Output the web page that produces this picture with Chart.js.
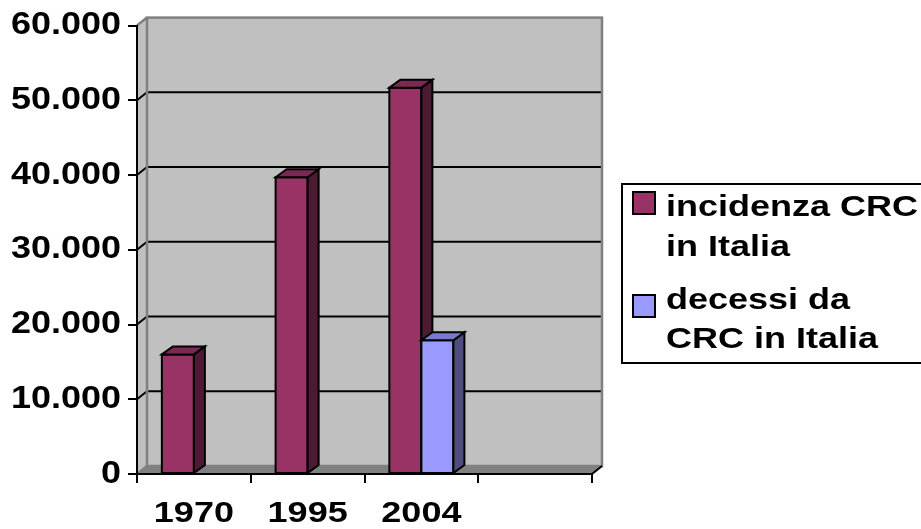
<!DOCTYPE html>
<html>
<head>
<meta charset="utf-8">
<script src="https://cdn.jsdelivr.net/npm/chart.js@4.4.1/dist/chart.umd.min.js"></script>
<style>
  html, body { margin: 0; padding: 0; background: #ffffff; }
  canvas { display: block; }
</style>
</head>
<body>
<canvas id="c" width="921" height="529"></canvas>
<script>
// ---- data ----
const years = ['1970', '1995', '2004', ''];
const incidenza = [16000, 39700, 51700, null];
const decessi = [null, null, 17900, null];
const seriesLabels = [['incidenza CRC', 'in Italia'], ['decessi da', 'CRC in Italia']];
const yMax = 60000;
const yStep = 10000;

// ---- look ----
const FONT = "'Liberation Sans', Arial, Helvetica, sans-serif";
const SHADES = [
  { front: '#993366', side: '#4d1a33', top: '#7a2952' },
  { front: '#9999ff', side: '#4d4d80', top: '#7a7acc' }
];
const WALL = { dx: 10, dy: 8 };
const BAR = { dx: 11, dy: 8 };
// horizontal glyph stretch keyed by font size (wide bold lettering)
const TEXT_STRETCH = { 30: 1.2, 31: 1.16 };

const canvas = document.getElementById('c');
const ctx = canvas.getContext('2d');
const rawFillText = ctx.fillText.bind(ctx);
ctx.fillText = function (text, x, y) {
  const m = /(\d+(?:\.\d+)?)px/.exec(this.font);
  const k = m ? (TEXT_STRETCH[Math.round(+m[1])] || 1) : 1;
  if (k === 1) { rawFillText(text, x, y); return; }
  this.save();
  this.translate(x, y);
  this.scale(k, 1);
  rawFillText(text, 0, 0);
  this.restore();
};

function poly(c, pts) {
  c.beginPath();
  c.moveTo(pts[0][0], pts[0][1]);
  for (let i = 1; i < pts.length; i++) c.lineTo(pts[i][0], pts[i][1]);
  c.closePath();
}

function formatIt(v) {
  return String(v).replace(/\B(?=(\d{3})+(?!\d))/g, '.');
}

// side wall, back wall, floor and back-wall gridlines
const wallsPlugin = {
  id: 'walls',
  beforeDraw(chart) {
    const c = chart.ctx;
    const a = chart.chartArea;
    const y = chart.scales.y;
    const { dx, dy } = WALL;
    c.save();
    c.lineJoin = 'miter';
    c.fillStyle = '#c0c0c0';
    poly(c, [[a.left, a.top], [a.left + dx, a.top - dy], [a.left + dx, a.bottom - dy], [a.left, a.bottom]]);
    c.fill();
    c.fillRect(a.left + dx, a.top - dy, a.right - a.left, a.bottom - a.top);

    c.fillStyle = '#808080';
    poly(c, [[a.left, a.bottom], [a.right, a.bottom], [a.right + dx, a.bottom - dy], [a.left + dx, a.bottom - dy]]);
    c.fill();

    c.strokeStyle = '#000000';
    c.lineWidth = 2;
    y.ticks.forEach(t => {
      if (t.value <= y.min || t.value >= y.max) return;
      const py = y.getPixelForValue(t.value);
      c.beginPath();
      c.moveTo(a.left, py);
      c.lineTo(a.left + dx, py - dy);
      c.lineTo(a.right + dx, py - dy);
      c.stroke();
    });

    c.strokeStyle = '#808080';
    c.lineWidth = 2.5;
    c.strokeRect(a.left + dx, a.top - dy, a.right - a.left, a.bottom - a.top);
    c.beginPath();
    c.moveTo(a.left, a.top);
    c.lineTo(a.left + dx, a.top - dy);
    c.moveTo(a.left, a.bottom);
    c.lineTo(a.left + dx, a.bottom - dy);
    c.stroke();

    c.strokeStyle = '#000000';
    c.lineWidth = 2;
    c.beginPath();
    c.moveTo(a.right, a.bottom);
    c.lineTo(a.right + dx, a.bottom - dy);
    c.stroke();
    c.restore();
  }
};

// front, side and top faces of each column, painted category by category
const columnsPlugin = {
  id: 'columns3d',
  afterDatasetsDraw(chart) {
    const c = chart.ctx;
    const { dx, dy } = BAR;
    const n = chart.data.labels.length;
    c.save();
    c.lineWidth = 2;
    c.strokeStyle = '#000000';
    c.lineJoin = 'miter';
    for (let j = 0; j < n; j++) {
      chart.data.datasets.forEach((ds, i) => {
        const v = ds.data[j];
        const el = chart.getDatasetMeta(i).data[j];
        if (v == null || !el) return;
        const p = el.getProps(['x', 'y', 'base', 'width'], true);
        const l = p.x - p.width / 2;
        const r = p.x + p.width / 2;
        const top = p.y;
        const base = p.base;
        const s = SHADES[i];
        c.fillStyle = s.front;
        poly(c, [[l, top], [r, top], [r, base], [l, base]]);
        c.fill(); c.stroke();
        c.fillStyle = s.side;
        poly(c, [[r, top], [r + dx, top - dy], [r + dx, base - dy], [r, base]]);
        c.fill(); c.stroke();
        c.fillStyle = s.top;
        poly(c, [[l, top], [l + dx, top - dy], [r + dx, top - dy], [r, top]]);
        c.fill(); c.stroke();
      });
    }
    c.restore();
  }
};

// boxed legend at the right
const legendPlugin = {
  id: 'boxLegend',
  afterDraw(chart) {
    const c = chart.ctx;
    c.save();
    c.fillStyle = '#ffffff';
    c.fillRect(622, 184, 320, 179);
    c.strokeStyle = '#000000';
    c.lineWidth = 2;
    c.strokeRect(622, 184, 320, 179);
    const rows = [
      { box: 192, lines: [216, 256] },
      { box: 295, lines: [309, 348] }
    ];
    c.font = 'bold 30px ' + FONT;
    c.textAlign = 'left';
    c.textBaseline = 'alphabetic';
    rows.forEach((row, i) => {
      c.fillStyle = SHADES[i].front;
      c.fillRect(633, row.box, 22, 22);
      c.strokeRect(633, row.box, 22, 22);
      c.fillStyle = '#000000';
      seriesLabels[i].forEach((txt, k) => c.fillText(txt, 666, row.lines[k]));
    });
    c.restore();
  }
};

new Chart(ctx, {
  type: 'bar',
  data: {
    labels: years,
    datasets: [
      { label: seriesLabels[0].join(' '), data: incidenza, backgroundColor: SHADES[0].front, borderColor: '#000000', borderWidth: 2 },
      { label: seriesLabels[1].join(' '), data: decessi, backgroundColor: SHADES[1].front, borderColor: '#000000', borderWidth: 2 }
    ]
  },
  options: {
    responsive: false,
    animation: false,
    devicePixelRatio: 1,
    layout: { padding: { left: 0, top: 24, right: 329, bottom: 0 } },
    datasets: { bar: { barPercentage: 1, categoryPercentage: 0.563 } },
    plugins: { legend: { display: false }, tooltip: { enabled: false } },
    scales: {
      x: {
        offset: true,
        grid: { display: true, drawOnChartArea: false, drawTicks: true, tickLength: 9, color: '#000000', lineWidth: 2, offset: true },
        border: { display: true, color: '#000000', width: 2 },
        ticks: { color: '#000000', font: { family: FONT, size: 30, weight: 'bold' }, padding: 13, maxRotation: 0, autoSkip: false },
        afterFit(scale) { scale.height = 55; }
      },
      y: {
        min: 0,
        max: yMax,
        grid: { display: true, drawOnChartArea: false, drawTicks: true, tickLength: 9, color: '#000000', lineWidth: 2 },
        border: { display: true, color: '#000000', width: 2 },
        ticks: { stepSize: yStep, color: '#000000', font: { family: FONT, size: 31, weight: 'bold' }, padding: 7, callback: v => formatIt(v) },
        afterFit(scale) { scale.width = 137; }
      }
    }
  },
  plugins: [wallsPlugin, columnsPlugin, legendPlugin]
});
</script>
</body>
</html>
